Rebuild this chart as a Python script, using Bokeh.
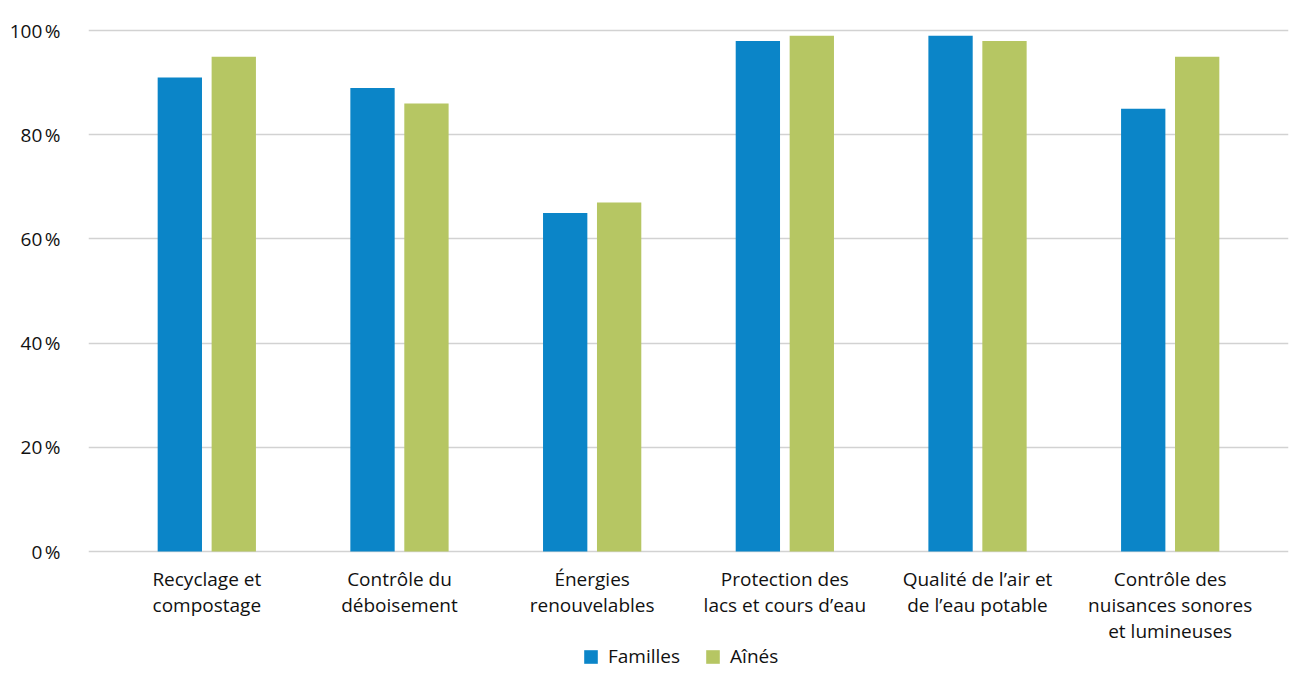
from bokeh.plotting import figure
from bokeh.models import ColumnDataSource, FactorRange, Legend, LegendItem, FixedTicker
from bokeh.transform import dodge
from bokeh.embed import file_html
from bokeh.resources import INLINE

categories = ["Recyclage et\ncompostage", "Contrôle du\ndéboisement", "Énergies\nrenouvelables",
              "Protection des\nlacs et cours d’eau", "Qualité de l’air et\nde l’eau potable",
              "Contrôle des\nnuisances sonores\net lumineuses"]
familles = [91, 89, 65, 98, 99, 85]
aines = [95, 86, 67, 99, 98, 95]
y_ticks = [0, 20, 40, 60, 80, 100]
y_labels = ["0\u202f%", "20\u202f%", "40\u202f%", "60\u202f%", "80\u202f%", "100\u202f%"]

FONT = "Open Sans"
BLUE = "#0b85c8"
GREEN = "#b6c663"

src = ColumnDataSource(dict(cat=categories, familles=familles, aines=aines))

# frame extends below the 0 line to leave room for category labels and legend
p = figure(x_range=FactorRange(factors=categories, range_padding=0.038),
           y_range=(-23.8, 100.4), frame_width=1200, frame_height=647,
           output_backend="svg", toolbar_location=None,
           min_border_left=88, min_border_right=1, min_border_top=28, min_border_bottom=0)

r1 = p.vbar(x=dodge("cat", -0.14, range=p.x_range), top="familles", width=0.23,
            source=src, color=BLUE, line_color=None)
r2 = p.vbar(x=dodge("cat", 0.14, range=p.x_range), top="aines", width=0.23,
            source=src, color=GREEN, line_color=None)

p.outline_line_color = None
p.xgrid.grid_line_color = None
p.ygrid.grid_line_color = "#d2d2d2"
p.ygrid.grid_line_width = 1.5
p.yaxis.ticker = FixedTicker(ticks=y_ticks)
p.yaxis.major_label_overrides = {t: l for t, l in zip(y_ticks, y_labels)}
for ax in (p.xaxis[0], p.yaxis[0]):
    ax.axis_line_color = None
    ax.major_tick_line_color = None
    ax.minor_tick_line_color = None
    ax.major_label_text_font = FONT
    ax.major_label_text_font_size = "19px"
    ax.major_label_text_color = "#111111"
p.yaxis.major_label_standoff = 22
p.xaxis.fixed_location = 0
p.xaxis.major_label_standoff = 8
p.xaxis.major_label_text_line_height = 1.0

legend = Legend(items=[LegendItem(label="Familles", renderers=[r1]),
                       LegendItem(label="Aînés", renderers=[r2])],
                orientation="horizontal", location=(494, 6),
                label_text_font=FONT, label_text_font_size="19px", label_text_color="#111111",
                glyph_width=17, glyph_height=17, label_standoff=9, spacing=24,
                padding=0, margin=0,
                border_line_color=None, background_fill_alpha=0)
p.add_layout(legend, "center")

open("out.html", "w").write(file_html(p, INLINE))
